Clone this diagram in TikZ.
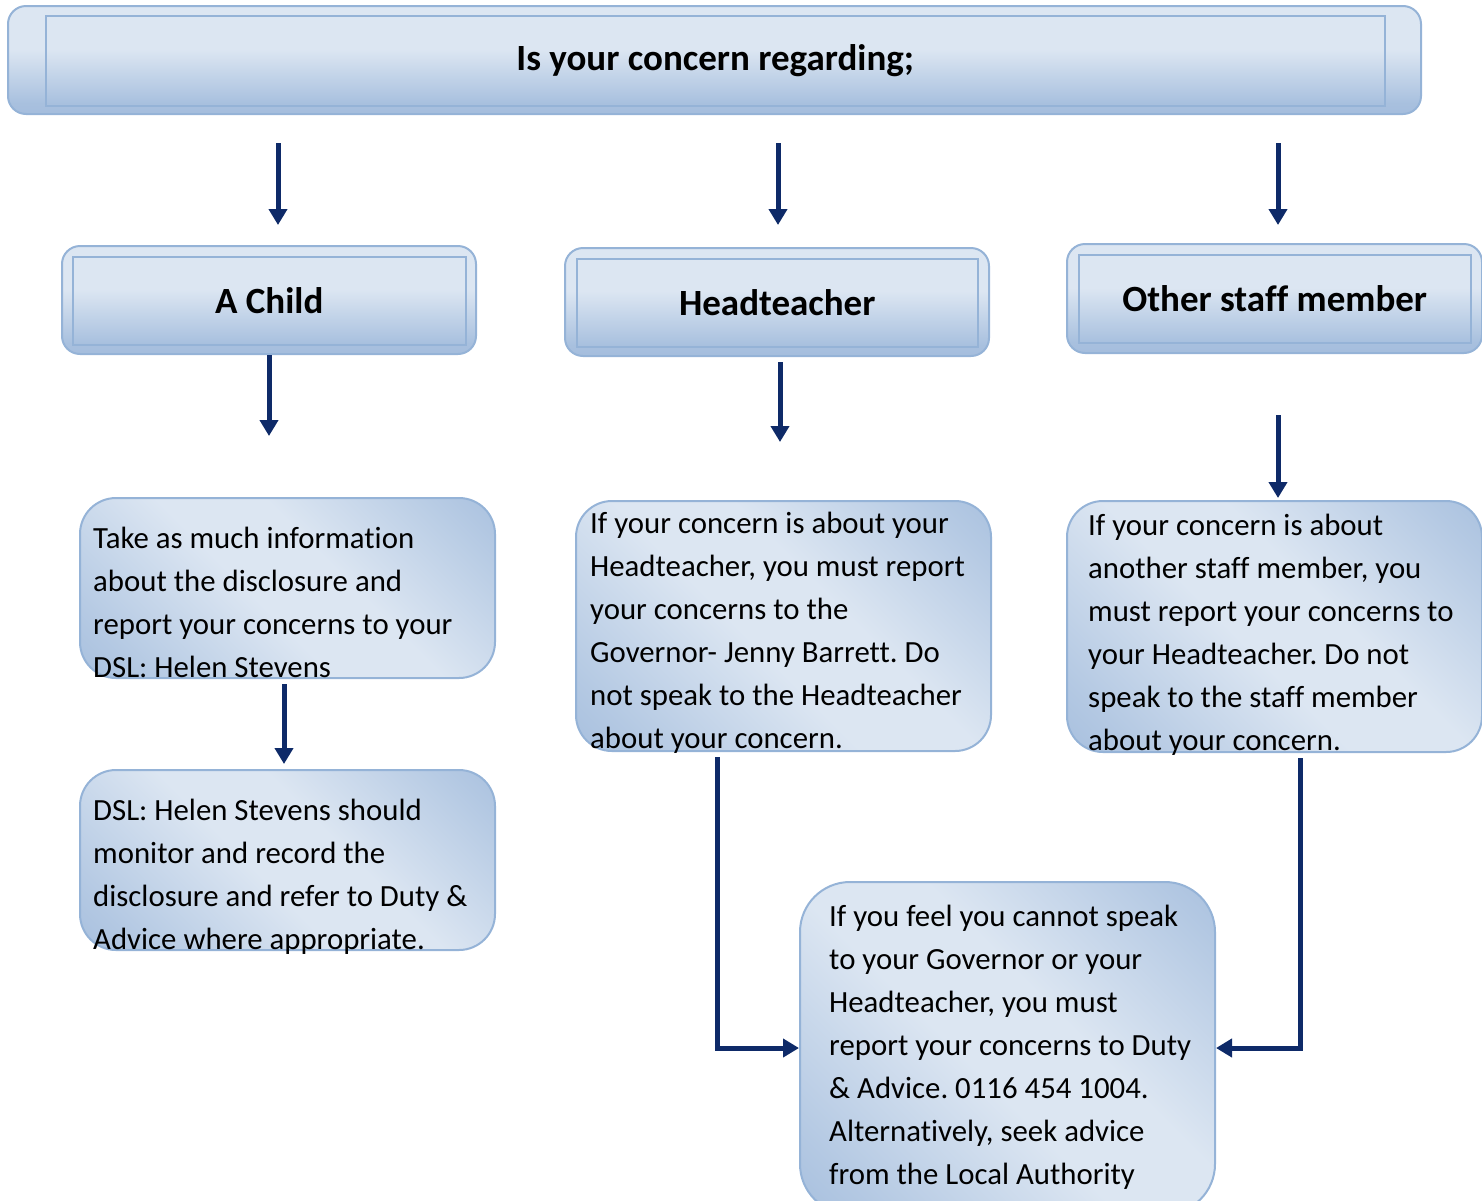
\documentclass[tikz,border=0pt]{standalone}
\usepackage{fontspec}
\setmainfont[Ligatures={NoCommon}]{Carlito}
\usepackage{xcolor}
\usetikzlibrary{arrows.meta}

\definecolor{boxedge}{HTML}{95B3D7}
\definecolor{boxdark}{HTML}{92B0D6}
\definecolor{boxlight}{HTML}{DCE6F2}
\definecolor{navy}{HTML}{0E2A68}

\pgfdeclarehorizontalshading{boxshade}{100bp}{color(0bp)=(boxdark); color(22bp)=(boxdark!55!boxlight); color(45bp)=(boxlight); color(58bp)=(boxlight); color(80bp)=(boxdark!55!boxlight); color(100bp)=(boxdark)}
\pgfdeclareverticalshading{titleshade}{100bp}{color(0bp)=(boxdark); color(30bp)=(boxdark!70!boxlight); color(55bp)=(boxlight); color(100bp)=(boxlight)}

\tikzset{
  flow/.style={draw=navy, line width=5pt, -{Triangle[width=18pt,length=16pt]}},
  headbox/.style={draw=boxedge, line width=2pt, rounded corners=18pt, shading=titleshade, anchor=north west, inner sep=0pt},
  headin/.style={draw=boxedge, line width=1.5pt, anchor=north west, inner sep=0pt, font=\fontsize{37}{43}\selectfont\bfseries},
  infobox/.style={draw=boxedge, line width=2pt, rounded corners=36pt, shading=boxshade, shading angle=45, anchor=north west, inner sep=0pt, minimum width=415pt},
  infotext/.style={anchor=north west, align=left, inner sep=0pt, font=\fontsize{30.8}{43}\selectfont\frenchspacing}
}

\begin{document}
\begin{tikzpicture}[x=1pt,y=-1pt]
\useasboundingbox (0,0) rectangle (1482,1200);
\clip (0,0) rectangle (1482,1200);

% top question
\node[headbox, minimum width=1413pt, minimum height=108pt] (question) at (7,5) {};
\node[headin, minimum width=1339pt, minimum height=90pt] (questionin) at (45,15) {Is your concern regarding;};

% the three cases
\node[headbox, minimum width=414pt, minimum height=108pt] (child) at (61,245) {};
\node[headin, minimum width=393pt, minimum height=88pt] (childin) at (72,256) {A Child};
\node[headbox, minimum width=424pt, minimum height=108pt] (head) at (564,247) {};
\node[headin, minimum width=401pt, minimum height=88pt] (headin) at (576,258) {Headteacher};
\node[headbox, minimum width=415pt, minimum height=109pt] (staff) at (1066,243) {};
\node[headin, minimum width=392pt, minimum height=88pt] (staffin) at (1078,254) {Other staff member};

% what to do
\node[infobox, minimum height=180pt] (childdsl) at (79,497) {};
\node[infotext] (childdsltext) at (93,527) {Take as much information\\about the disclosure and\\report your concerns to your\\DSL: Helen Stevens};
\node[infobox, minimum height=180pt] (dslrefer) at (79,769) {};
\node[infotext] (dslrefertext) at (93,799) {DSL: Helen Stevens should\\monitor and record the\\disclosure and refer to Duty \&\\Advice where appropriate.};
\node[infobox, minimum height=250pt] (governor) at (575,500) {};
\node[infotext] (governortext) at (590,512) {If your concern is about your\\Headteacher, you must report\\your concerns to the\\Governor- Jenny Barrett. Do\\not speak to the Headteacher\\about your concern.};
\node[infobox, minimum height=251pt] (report) at (1066,500) {};
\node[infotext] (reporttext) at (1088,514) {If your concern is about\\another staff member, you\\must report your concerns to\\your Headteacher. Do not\\speak to the staff member\\about your concern.};
\node[infobox, rounded corners=50pt, minimum height=332pt] (duty) at (799,881) {};
\node[infotext] (dutytext) at (829,905) {If you feel you cannot speak\\to your Governor or your\\Headteacher, you must\\report your concerns to Duty\\\& Advice. 0116 454 1004.\\Alternatively, seek advice\\from the Local Authority};

% arrows
\coordinate (q1) at (278,143); \coordinate (c1) at (278,225);
\coordinate (q2) at (778,143); \coordinate (c2) at (778,225);
\coordinate (q3) at (1278,143); \coordinate (c3) at (1278,225);
\draw[flow] (q1) -- (c1);
\draw[flow] (q2) -- (c2);
\draw[flow] (q3) -- (c3);

\coordinate (d1) at (269,436);
\coordinate (d2) at (780,442);
\coordinate (s3) at (1278,415); \coordinate (d3) at (1278,498);
\draw[flow] (child.south -| d1) -- (d1);
\draw[flow] ([yshift=-5pt]head.south -| d2) -- (d2);
\draw[flow] (s3) -- (d3);

\coordinate (e1) at (284,764);
\draw[flow] ([yshift=-5pt]childdsl.south -| e1) -- (e1);

\draw[flow] ([xshift=-66pt,yshift=-5pt]governor.south) |- (duty.west);
\draw[flow] ([xshift=26pt,yshift=-5pt]report.south) |- (duty.east);
\end{tikzpicture}
\end{document}
